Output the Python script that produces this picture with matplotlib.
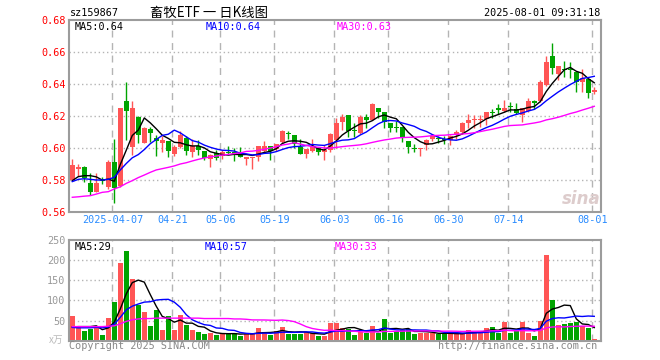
import numpy as np
import pandas as pd
import matplotlib
matplotlib.use('Agg')
import matplotlib.pyplot as plt

plt.rcParams['font.family'] = ['DejaVu Sans Mono', 'Noto Sans CJK SC']

# trading days shown (holidays removed)
holidays = ['2025-04-04', '2025-05-01', '2025-05-02', '2025-05-05', '2025-06-02']
dates = pd.bdate_range('2025-03-26', '2025-08-01')
dates = dates[~dates.isin(pd.to_datetime(holidays))]

tick_dates = ['2025-04-07', '2025-04-21', '2025-05-06', '2025-05-19', '2025-06-03',
              '2025-06-16', '2025-06-30', '2025-07-14', '2025-08-01']
tick_labels = ['2025-04-07', '04-21', '05-06', '05-19', '06-03', '06-16', '06-30', '07-14', '08-01']

opens = [0.5798, 0.5866, 0.5882, 0.5780, 0.5727, 0.5800, 0.5758, 0.5914, 0.5764, 0.6294,
         0.6008, 0.6195, 0.6033, 0.6117, 0.6061, 0.6032, 0.6045, 0.5964, 0.6005, 0.6064,
         0.5977, 0.6013, 0.5982, 0.5934, 0.5967, 0.5952, 0.5977, 0.5977, 0.5973, 0.5931,
         0.5935, 0.5946, 0.5981, 0.6013, 0.5994, 0.6035, 0.6094, 0.6081, 0.6006, 0.5965,
         0.5981, 0.5998, 0.5977, 0.5990, 0.6050, 0.6160, 0.6206, 0.6110, 0.6094, 0.6194,
         0.6177, 0.6248, 0.6223, 0.6156, 0.6131, 0.6131, 0.6044, 0.6002, 0.5994, 0.6019,
         0.6056, 0.6063, 0.6056, 0.6052, 0.6081, 0.6102, 0.6156, 0.6173, 0.6173, 0.6181,
         0.6225, 0.6252, 0.6231, 0.6265, 0.6244, 0.6206, 0.6231, 0.6294, 0.6294, 0.6394,
         0.6577, 0.6460, 0.6494, 0.6490, 0.6473, 0.6415, 0.6431, 0.6352]
highs = [0.5932, 0.5902, 0.5886, 0.5843, 0.5845, 0.5820, 0.5924, 0.6057, 0.6251, 0.6412,
         0.6293, 0.6200, 0.6129, 0.6129, 0.6081, 0.6076, 0.6046, 0.6016, 0.6105, 0.6074,
         0.6058, 0.6050, 0.5983, 0.5960, 0.5988, 0.5988, 0.6013, 0.6002, 0.6006, 0.5944,
         0.5944, 0.6013, 0.6044, 0.6013, 0.6027, 0.6115, 0.6106, 0.6081, 0.6056, 0.5994,
         0.6056, 0.5998, 0.6019, 0.6094, 0.6190, 0.6210, 0.6206, 0.6154, 0.6206, 0.6210,
         0.6279, 0.6248, 0.6223, 0.6156, 0.6169, 0.6131, 0.6044, 0.6025, 0.6002, 0.6056,
         0.6090, 0.6077, 0.6077, 0.6081, 0.6110, 0.6160, 0.6210, 0.6206, 0.6206, 0.6223,
         0.6244, 0.6277, 0.6298, 0.6285, 0.6279, 0.6252, 0.6310, 0.6302, 0.6427, 0.6577,
         0.6656, 0.6510, 0.6544, 0.6540, 0.6473, 0.6494, 0.6431, 0.6381]
lows = [0.5795, 0.5825, 0.5790, 0.5708, 0.5722, 0.5778, 0.5743, 0.5659, 0.5754, 0.6053,
        0.5956, 0.6029, 0.6029, 0.6040, 0.5953, 0.5974, 0.5941, 0.5950, 0.6001, 0.5956,
        0.5946, 0.5958, 0.5924, 0.5879, 0.5925, 0.5930, 0.5965, 0.5919, 0.5944, 0.5894,
        0.5869, 0.5919, 0.5973, 0.5927, 0.5981, 0.6031, 0.6056, 0.6002, 0.5960, 0.5940,
        0.5977, 0.5956, 0.5923, 0.5973, 0.6000, 0.6113, 0.6071, 0.6071, 0.6090, 0.6123,
        0.6173, 0.6190, 0.6127, 0.6102, 0.6102, 0.6040, 0.5969, 0.5975, 0.5952, 0.5990,
        0.6042, 0.6029, 0.6023, 0.6019, 0.6056, 0.6085, 0.6123, 0.6123, 0.6133, 0.6144,
        0.6185, 0.6210, 0.6223, 0.6223, 0.6210, 0.6160, 0.6227, 0.6244, 0.6290, 0.6390,
        0.6465, 0.6423, 0.6446, 0.6435, 0.6348, 0.6350, 0.6310, 0.6340]
closes = [0.5893, 0.5882, 0.5813, 0.5727, 0.5783, 0.5792, 0.5913, 0.5747, 0.6250, 0.6232,
          0.6250, 0.6082, 0.6125, 0.6096, 0.6046, 0.6049, 0.5983, 0.6004, 0.6080, 0.5984,
          0.6012, 0.5988, 0.5940, 0.5958, 0.5938, 0.5973, 0.5969, 0.5965, 0.5946, 0.5944,
          0.5944, 0.6013, 0.6013, 0.5981, 0.6027, 0.6106, 0.6085, 0.6027, 0.5965, 0.5994,
          0.6010, 0.5977, 0.5990, 0.6090, 0.6156, 0.6194, 0.6106, 0.6104, 0.6194, 0.6177,
          0.6273, 0.6227, 0.6160, 0.6127, 0.6127, 0.6069, 0.6006, 0.5994, 0.6002, 0.6052,
          0.6077, 0.6058, 0.6048, 0.6077, 0.6102, 0.6154, 0.6173, 0.6181, 0.6181, 0.6223,
          0.6221, 0.6240, 0.6252, 0.6256, 0.6217, 0.6248, 0.6294, 0.6281, 0.6410, 0.6535,
          0.6498, 0.6510, 0.6490, 0.6485, 0.6415, 0.6435, 0.6344, 0.6360]
volumes = [62, 35, 25, 28, 35, 14, 57, 97, 192, 222,
           153, 88, 72, 37, 77, 27, 62, 27, 64, 38,
           27, 22, 17, 18, 14, 18, 20, 18, 12, 17,
           17, 32, 22, 14, 24, 35, 17, 17, 17, 22,
           18, 12, 12, 45, 43, 31, 30, 14, 22, 20,
           37, 20, 54, 18, 23, 27, 30, 17, 18, 20,
           20, 17, 17, 17, 17, 18, 27, 22, 22, 32,
           34, 20, 47, 20, 23, 47, 20, 12, 49, 212,
           100, 39, 42, 43, 47, 37, 32, 4]

# moving-average values before the window fills (history not shown on chart)
ma5_head = [0.5796, 0.5821, 0.5827, 0.5827]
ma10_head = [0.5790, 0.5804, 0.5808, 0.5804, 0.5800, 0.5800, 0.5804, 0.5817, 0.5863]
ma30_head = [0.5692, 0.5695, 0.5699, 0.5702, 0.5712, 0.5723, 0.5727, 0.5744, 0.5758, 0.5779,
             0.5796, 0.5815, 0.5831, 0.5848, 0.5863, 0.5871, 0.5879, 0.5888, 0.5900, 0.5908,
             0.5919, 0.5929, 0.5938, 0.5944, 0.5950, 0.5956, 0.5960, 0.5965, 0.5969]
vma5_head = [34, 35, 35, 35]
vma10_head = [33, 32, 32, 32, 33, 32, 34, 41, 58]
vma30_head = [35, 35, 35, 35, 35, 35, 36, 37, 42, 48, 52, 54, 55, 55, 56, 56, 56, 56, 56, 56,
              56, 56, 55, 55, 55, 55, 55, 54, 54]

price_ma_text = ['MA5:0.64', 'MA10:0.64', 'MA30:0.63']
vol_ma_text = ['MA5:29', 'MA10:57', 'MA30:33']


def moving(values, n, head):
    s = pd.Series(values, dtype=float).rolling(n).mean()
    s.iloc[:n - 1] = head
    return s.values


o = np.array(opens); h = np.array(highs); l = np.array(lows); c = np.array(closes)
v = np.array(volumes)
x = np.arange(len(dates))
up = c >= o
up_col, dn_col = '#ff5555', '#00a400'
cols = np.where(up, up_col, dn_col)

date_strs = list(dates.strftime('%Y-%m-%d'))
tick_idx = np.array([date_strs.index(d) for d in tick_dates]) - 0.33

W, H = 660, 360
fig = plt.figure(figsize=(W / 100, H / 100), dpi=100)
fig.patch.set_facecolor('white')


def fx(px):
    return px / W


def fy(py):
    return 1 - py / H


grid_col = '#b4b4b4'
spine_col = '#9c9c9c'
xlim = (-0.55, 88.12)

# ---- price panel
ax = fig.add_axes([fx(69), fy(212), fx(601) - fx(69), fy(20) - fy(212)])
ax.set_xlim(*xlim)
ax.set_ylim(0.56, 0.68)
for yv in [0.58, 0.60, 0.62, 0.64, 0.66]:
    ax.axhline(yv, color=grid_col, lw=1, ls=(0, (1, 2)), zorder=0)
for t in tick_idx:
    ax.axvline(t, color=grid_col, lw=1, ls=(0, (5, 4)), zorder=0)

ax.vlines(x, l, h, colors=cols, lw=1, zorder=2)
body = np.maximum(np.abs(c - o), 0.0006)
ax.bar(x, body, bottom=np.minimum(o, c), width=0.8, color=cols, zorder=3)

ax.plot(x, moving(closes, 5, ma5_head), color='black', lw=1, zorder=4)
ax.plot(x, moving(closes, 10, ma10_head), color='#0000ff', lw=1, zorder=4)
ax.plot(x, moving(closes, 30, ma30_head), color='#ff00ff', lw=1, zorder=4)

ax.set_yticks([0.56, 0.58, 0.60, 0.62, 0.64, 0.66, 0.68])
ax.set_yticklabels(['%.2f' % t for t in ax.get_yticks()], color='red', fontsize=7.3)
ax.set_xticks(tick_idx)
ax.set_xticklabels(tick_labels, color='#2a8cff', fontsize=7.3)
ax.tick_params(length=0, pad=2.5)
for sp in ax.spines.values():
    sp.set_color(spine_col)
    sp.set_linewidth(1.5)

# ---- volume panel
axv = fig.add_axes([fx(69), fy(340.7), fx(601) - fx(69), fy(240) - fy(340.7)])
axv.set_xlim(*xlim)
axv.set_ylim(0, 250)
for yv in [50, 100, 150, 200]:
    axv.axhline(yv, color=grid_col, lw=1, ls=(0, (1, 2)), zorder=0)
for t in tick_idx:
    axv.axvline(t, color=grid_col, lw=1, ls=(0, (5, 4)), zorder=0)
axv.bar(x, v, width=0.8, color=cols, zorder=2)
axv.plot(x, moving(volumes, 5, vma5_head), color='black', lw=1, zorder=4)
axv.plot(x, moving(volumes, 10, vma10_head), color='#0000ff', lw=1, zorder=4)
axv.plot(x, moving(volumes, 30, vma30_head), color='#ff00ff', lw=1, zorder=4)
axv.set_yticks([50, 100, 150, 200, 250])
axv.set_yticklabels(['50', '100', '150', '200', '250'], color='#999999', fontsize=7.3)
axv.set_xticks([])
axv.tick_params(length=0, pad=2.5)
for sp in axv.spines.values():
    sp.set_color(spine_col)
    sp.set_linewidth(1.5)

# ---- texts
mono = 'DejaVu Sans Mono'
fig.text(fx(70), fy(13), 'sz159867', fontsize=7.3, va='center', family=mono)
fig.text(fx(150), fy(13), '畜牧ETF 一 日K线图', fontsize=9.6, va='center',
         family=['Noto Sans CJK SC', 'DejaVu Sans'])
fig.text(fx(600), fy(13), '2025-08-01 09:31:18', fontsize=7.3, va='center', ha='right', family=mono)

ma_cols = ['black', '#0000ff', '#ff00ff']
for txt, xp, col in zip(price_ma_text, [75, 206, 337], ma_cols):
    fig.text(fx(xp), fy(27), txt, fontsize=7.3, va='center', color=col, family=mono)
for txt, xp, col in zip(vol_ma_text, [75, 205, 335], ma_cols):
    fig.text(fx(xp), fy(247), txt, fontsize=7.3, va='center', color=col, family=mono)

# sina watermark
fig.text(fx(581), fy(199), 'sina', fontsize=12, style='italic', weight='bold',
         color='#ddcccc', ha='center', va='center', family='DejaVu Sans')

fig.text(fx(69), fy(346), 'Copyright 2025 SINA.COM', fontsize=7.3, va='center',
         color='#888888', family=mono)
fig.text(fx(597), fy(346), 'http://finance.sina.com.cn', fontsize=7.3, va='center', ha='right',
         color='#888888', family=mono)
fig.text(fx(49), fy(340), 'x万', fontsize=7, va='center', color='#bbbbbb',
         family=['Noto Sans CJK SC', 'DejaVu Sans'])

fig.savefig('out.png', dpi=100)
